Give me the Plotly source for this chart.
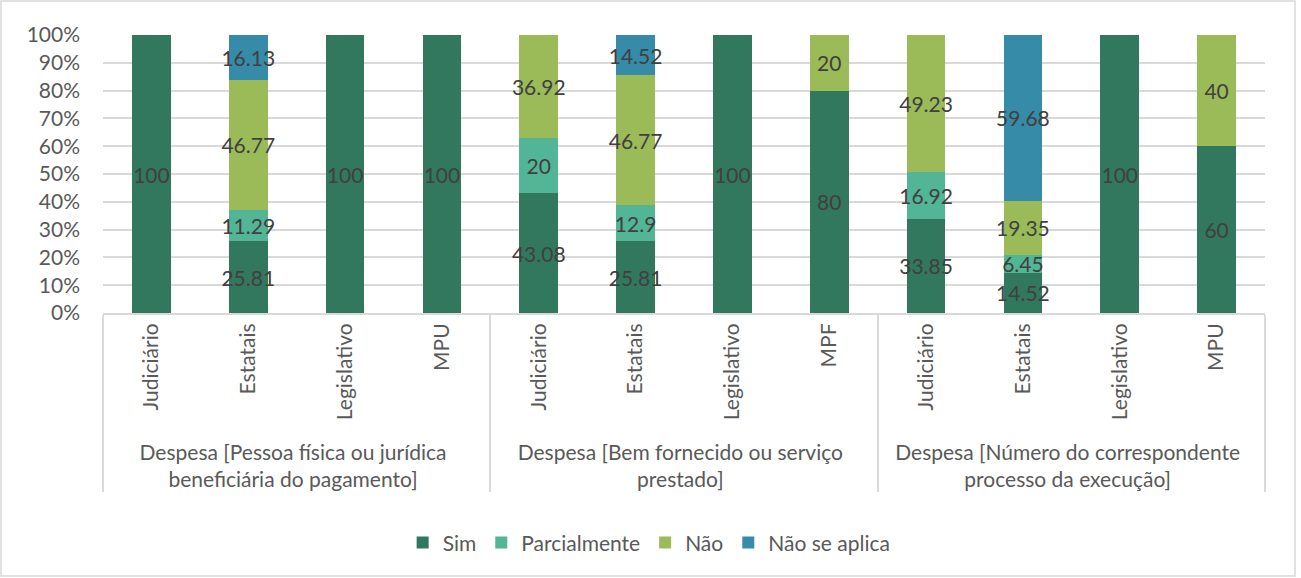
import plotly.graph_objects as go

# categorias (grupo, órgão)
grupos = [
    'Despesa [Pessoa física ou jurídica<br>beneficiária do pagamento]',
    'Despesa [Bem fornecido ou serviço<br>prestado]',
    'Despesa [Número do correspondente<br>processo da execução]',
]
orgaos = [
    ['Judiciário', 'Estatais', 'Legislativo', 'MPU'],
    ['Judiciário', 'Estatais', 'Legislativo', 'MPF'],
    ['Judiciário', 'Estatais', 'Legislativo', 'MPU'],
]

sim = [100, 25.81, 100, 100, 43.08, 25.81, 100, 80, 33.85, 14.52, 100, 60]
parcialmente = [0, 11.29, 0, 0, 20, 12.9, 0, 0, 16.92, 6.45, 0, 0]
nao = [0, 46.77, 0, 0, 36.92, 46.77, 0, 20, 49.23, 19.35, 0, 40]
nao_se_aplica = [0, 16.13, 0, 0, 0, 14.52, 0, 0, 0, 59.68, 0, 0]

series = [
    ('Sim', sim, '#31785F'),
    ('Parcialmente', parcialmente, '#52B596'),
    ('Não', nao, '#9BBB59'),
    ('Não se aplica', nao_se_aplica, '#358BA8'),
]

x_grupo = [g for g, lst in zip(grupos, orgaos) for _ in lst]
x_orgao = [o for lst in orgaos for o in lst]

fig = go.Figure()
for nome, vals, cor in series:
    fig.add_trace(go.Bar(
        x=[x_grupo, x_orgao],
        y=vals,
        name=nome,
        marker=dict(color=cor, line=dict(width=0)),
        text=[('%g' % v) if v else '' for v in vals],
        textposition='inside',
        insidetextanchor='middle',
        textangle=0,
        textfont=dict(color='#404040', size=21),
        constraintext='none',
    ))

fig.update_layout(
    barmode='stack',
    bargap=0.6,
    width=1301, height=578,
    margin=dict(l=103, r=36, t=35, b=265),
    plot_bgcolor='white',
    paper_bgcolor='white',
    font=dict(family='Lato, Noto Sans, sans-serif', size=21, color='#595959'),
    uniformtext=dict(minsize=21, mode='show'),
    legend=dict(orientation='h', x=0.47, xanchor='center', y=-0.827, yanchor='middle',
                font=dict(size=21, color='#595959'), traceorder='normal',
                itemwidth=30),
    showlegend=True,
)
fig.update_yaxes(range=[0, 100], dtick=10, ticksuffix='%', showgrid=True,
                 gridcolor='#D9D9D9', gridwidth=2, zeroline=False, showline=False,
                 ticks='', ticklabelstandoff=22, tickfont=dict(size=21))
fig.update_xaxes(type='multicategory', tickangle=-90, showline=True,
                 linecolor='#D9D9D9', linewidth=2, showdividers=True,
                 dividercolor='#D9D9D9', dividerwidth=2, ticks='',
                 tickfont=dict(size=21))

# borda do gráfico
fig.add_shape(type='rect', xref='paper', yref='paper',
              x0=-0.0878, x1=1.0258, y0=-0.946, y1=1.122,
              line=dict(color='#D9D9D9', width=1.5), layer='below')

fig.write_html("out.html", config={'displayModeBar': False},
               post_script="document.body.style.margin='0px';")
